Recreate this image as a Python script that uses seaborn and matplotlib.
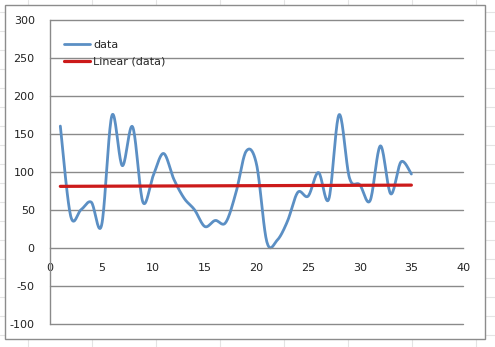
import numpy as np
import pandas as pd
import matplotlib
matplotlib.use("Agg")
import matplotlib.pyplot as plt
from matplotlib.lines import Line2D
from matplotlib.patches import Rectangle
import seaborn as sns

# Series values
x_vals = list(range(1, 36))
y_vals = [160, 42, 50, 60, 30, 174, 108, 159, 60, 95,
          124, 90, 65, 50, 28, 36, 33, 72, 127, 110,
          8, 10, 35, 73, 68, 99, 64, 175, 92, 83,
          62, 134, 71, 113, 97]
series_labels = ["data", "Linear (data)"]
y_ticks = [-100, -50, 0, 50, 100, 150, 200, 250, 300]
x_ticks = [0, 5, 10, 15, 20, 25, 30, 35, 40]

W, H = 495, 347
DPI = 100
BLUE = "#5B8FC4"
RED = "#CC1A1A"
GRID = "#8A8A8A"


def smooth_curve(xs, ys, steps=20):
    """Catmull-Rom spline through the points (spreadsheet-style smoothed line)."""
    xs = np.asarray(xs, float)
    ys = np.asarray(ys, float)
    px = np.concatenate([[xs[0]], xs, [xs[-1]]])
    py = np.concatenate([[ys[0]], ys, [ys[-1]]])
    out_x, out_y = [], []
    t = np.linspace(0, 1, steps, endpoint=False)
    for i in range(1, len(px) - 2):
        p0x, p1x, p2x, p3x = px[i - 1], px[i], px[i + 1], px[i + 2]
        p0y, p1y, p2y, p3y = py[i - 1], py[i], py[i + 1], py[i + 2]
        # cubic Bezier control points
        c1x, c1y = p1x + (p2x - p0x) / 6, p1y + (p2y - p0y) / 6
        c2x, c2y = p2x - (p3x - p1x) / 6, p2y - (p3y - p1y) / 6
        bx = (1 - t) ** 3 * p1x + 3 * (1 - t) ** 2 * t * c1x + 3 * (1 - t) * t ** 2 * c2x + t ** 3 * p2x
        by = (1 - t) ** 3 * p1y + 3 * (1 - t) ** 2 * t * c1y + 3 * (1 - t) * t ** 2 * c2y + t ** 3 * p2y
        out_x.extend(bx)
        out_y.extend(by)
    out_x.append(xs[-1])
    out_y.append(ys[-1])
    return np.array(out_x), np.array(out_y)


sns.set_style("white")
plt.rcParams["font.family"] = ["DejaVu Sans"]
plt.rcParams["axes.unicode_minus"] = False

fig = plt.figure(figsize=(W / DPI, H / DPI), dpi=DPI)
fig.patch.set_facecolor("white")

# worksheet cell grid behind the chart
for gx in [28, 92, 156, 220, 284, 348, 412, 476]:
    fig.add_artist(Line2D([gx / W, gx / W], [0, 1], color="#E4E4E4", lw=0.8,
                          transform=fig.transFigure, zorder=0))
for gy in range(12, H, 19):
    fig.add_artist(Line2D([0, 1], [1 - gy / H, 1 - gy / H], color="#E4E4E4", lw=0.8,
                          transform=fig.transFigure, zorder=0))
# chart area
fig.add_artist(Rectangle((5 / W, 1 - 339 / H), 480 / W, 334 / H,
                         facecolor="white", edgecolor="#8C8C8C", lw=1,
                         transform=fig.transFigure, zorder=0.5))

ax = fig.add_axes([50 / W, 1 - 324 / H, 413 / W, 304.5 / H])
ax.set_facecolor("none")
ax.set_zorder(1)

# smoothed data line
sx, sy = smooth_curve(x_vals, y_vals)
curve = pd.DataFrame({"x": sx, "y": sy})
sns.lineplot(data=curve, x="x", y="y", sort=False, estimator=None, ax=ax,
             color=BLUE, lw=2.0, label=series_labels[0])

# linear trend of the data
slope, intercept = np.polyfit(x_vals, y_vals, 1)
trend = pd.DataFrame({"x": [x_vals[0], x_vals[-1]]})
trend["y"] = intercept + slope * trend["x"]
sns.lineplot(data=trend, x="x", y="y", ax=ax, color=RED, lw=2.3,
             label=series_labels[1])

ax.set_xlim(0, 40)
ax.set_ylim(-100, 300)
ax.set_xticks(x_ticks)
ax.set_yticks(y_ticks)
ax.set_xlabel("")
ax.set_ylabel("")

for yv in y_ticks:
    if yv != 0:
        ax.axhline(yv, color=GRID, lw=1, zorder=0.8, clip_on=False)

for side in ["top", "right"]:
    ax.spines[side].set_visible(False)
ax.spines["left"].set_color(GRID)
ax.spines["bottom"].set_color(GRID)
ax.spines["left"].set_linewidth(1)
ax.spines["bottom"].set_linewidth(1)
ax.spines["bottom"].set_position(("data", 0))

ax.tick_params(axis="x", direction="out", length=4, width=1, color=GRID,
               labelsize=8, pad=7, labelcolor="#222222")
ax.tick_params(axis="y", direction="out", length=4, width=1, color=GRID,
               labelsize=8, pad=7, labelcolor="#222222")

leg = ax.legend(loc="upper left", bbox_to_anchor=(14 / 413, 1 - 20 / 304.5),
                frameon=False, fontsize=8, handlelength=2.3, handletextpad=0.35,
                labelspacing=0.62, borderpad=0, borderaxespad=0)

fig.savefig("out.png", dpi=DPI)
